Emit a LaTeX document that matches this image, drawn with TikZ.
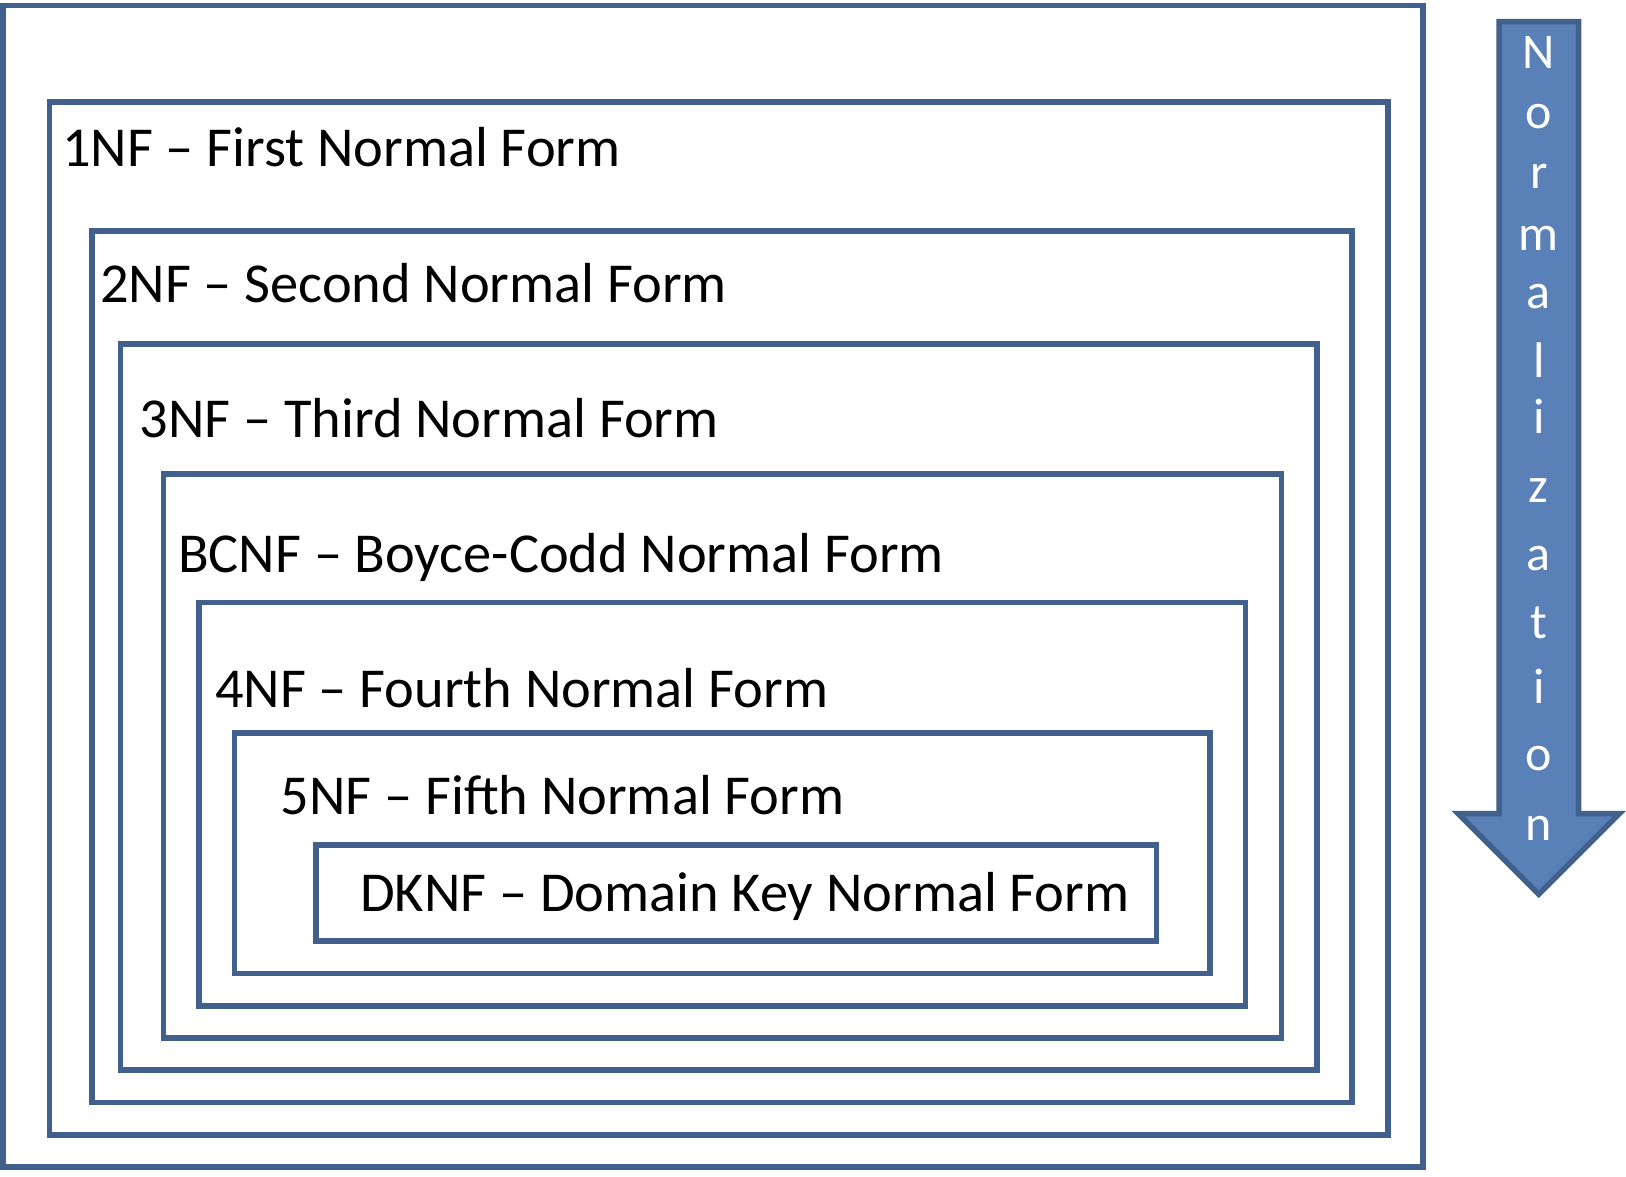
\documentclass[tikz,border=0pt]{standalone}
\usepackage{fontspec}
\setmainfont{Carlito}
\definecolor{nfline}{RGB}{65,96,139}
\definecolor{nffill}{RGB}{89,128,183}
\usetikzlibrary{positioning}
\tikzset{
  nfbox/.style={draw=nfline, line width=5.5pt},
  nflabel/.style={anchor=base west, inner sep=0pt, font=\fontsize{56.4}{60}\selectfont, text=black},
  nfarrow/.style={draw=nfline, fill=nffill, line width=5.5pt},
  nfletter/.style={anchor=base, inner sep=0pt, font=\fontsize{50}{56}\selectfont, text=white}
}
\begin{document}
\begin{tikzpicture}[x=1pt, y=-1pt]
  \useasboundingbox (0,0) rectangle (1626,1176);

  %% Nested boxes (outermost first)
  \draw[nfbox] (3,5.5)      rectangle (1423,1167);
  \draw[nfbox] (49.5,102)   rectangle (1388,1135);
  \draw[nfbox] (92,231)     rectangle (1352,1102.5);
  \draw[nfbox] (120.5,344)  rectangle (1317,1070);
  \draw[nfbox] (163.5,474)  rectangle (1281.5,1038);
  \draw[nfbox] (199,602.5)  rectangle (1245.5,1006);
  \draw[nfbox] (234.5,733)  rectangle (1210,973.5);
  \draw[nfbox] (316,845)    rectangle (1156.5,941);

  %% Box labels
  \node[nflabel] (l1nf)   at (62,166)    {1NF – First Normal Form};
  \node[nflabel] (l2nf)   at (100,302)   {2NF – Second Normal Form};
  \node[nflabel] (l3nf)   at (139.5,437) {3NF – Third Normal Form};
  \node[nflabel] (lbcnf)  at (178,572)   {BCNF – Boyce-Codd Normal Form};
  \node[nflabel] (l4nf)   at (215,707)   {4NF – Fourth Normal Form};
  \node[nflabel] (l5nf)   at (280.5,814) {5NF – Fifth Normal Form};
  \node[nflabel] (ldknf)  at (360,911)   {DKNF – Domain Key Normal Form};

  %% Normalization arrow (right)
  \draw[nfarrow] (1499,21.5) -- (1578.5,21.5) -- (1578.5,813.5) -- (1619.5,813.5)
    -- (1538.75,894.25) -- (1458,813.5) -- (1499,813.5) -- cycle;
  \node[nfletter] (v1)  at (1538.75,68)  {N};
  \node[nfletter] (v2)  at (1538.75,128) {o};
  \node[nfletter] (v3)  at (1538.75,188) {r};
  \node[nfletter] (v4)  at (1538.75,250) {m};
  \node[nfletter] (v5)  at (1538.75,308) {a};
  \node[nfletter] (v6)  at (1538.75,377) {l};
  \node[nfletter] (v7)  at (1538.75,433) {i};
  \node[nfletter] (v8)  at (1538.75,502) {z};
  \node[nfletter] (v9)  at (1538.75,570) {a};
  \node[nfletter] (v10) at (1538.75,638) {t};
  \node[nfletter] (v11) at (1538.75,703) {i};
  \node[nfletter] (v12) at (1538.75,770) {o};
  \node[nfletter] (v13) at (1538.75,840) {n};
\end{tikzpicture}
\end{document}
